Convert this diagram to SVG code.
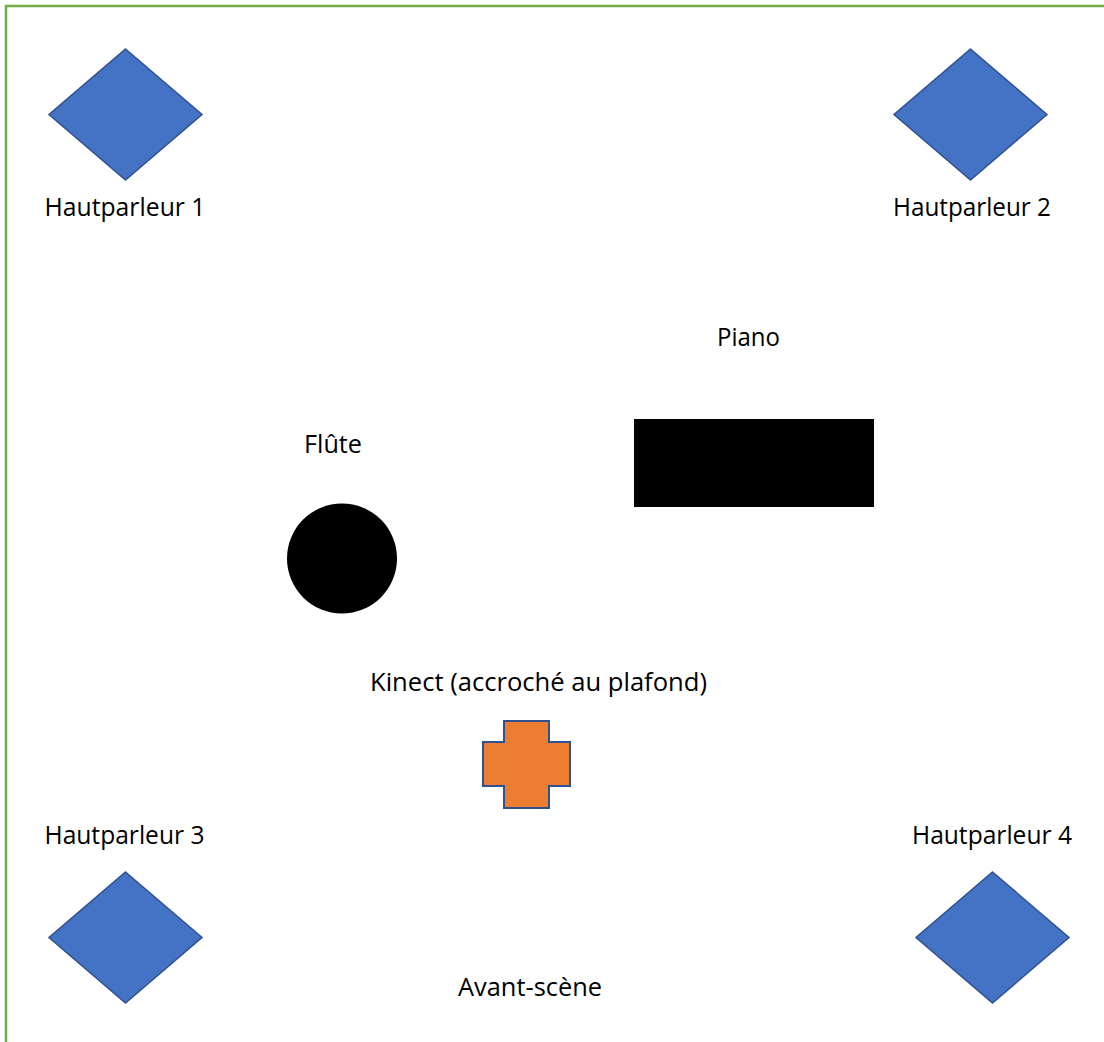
<svg xmlns="http://www.w3.org/2000/svg" width="1104" height="1042" viewBox="0 0 1104 1042">
<style>
.lbl{font-family:"Open Sans","Liberation Sans",sans-serif;font-size:25px;fill:#000;text-anchor:middle}
.spk{fill:#4472C4;stroke:#2F528F;stroke-width:1.5}
</style>
<rect width="1104" height="1042" fill="#fff"/>
<path d="M6,1042 V6 H1104" fill="none" stroke="#70AD47" stroke-width="2.5"/>
<g id="hp1">
<polygon class="spk" points="125.5,49 202,114.5 125.5,180 49,114.5"/>
<text class="lbl" x="125" y="216" textLength="161" lengthAdjust="spacingAndGlyphs">Hautparleur 1</text>
</g>
<g id="hp2">
<polygon class="spk" points="970.5,49 1047,114.5 970.5,180 894,114.5"/>
<text class="lbl" x="972" y="216" textLength="158" lengthAdjust="spacingAndGlyphs">Hautparleur 2</text>
</g>
<g id="hp3">
<polygon class="spk" points="125.5,872 202,937.5 125.5,1003 49,937.5"/>
<text class="lbl" x="124.5" y="844" textLength="160" lengthAdjust="spacingAndGlyphs">Hautparleur 3</text>
</g>
<g id="hp4">
<polygon class="spk" points="992.5,872 1069,937.5 992.5,1003 916,937.5"/>
<text class="lbl" x="992" y="844" textLength="160" lengthAdjust="spacingAndGlyphs">Hautparleur 4</text>
</g>
<g id="piano">
<rect x="634" y="419" width="240" height="88" fill="#000"/>
<text class="lbl" x="748.5" y="346" textLength="63" lengthAdjust="spacingAndGlyphs">Piano</text>
</g>
<g id="flute">
<circle cx="342" cy="558.5" r="55" fill="#000"/>
<text class="lbl" x="333" y="453" textLength="58" lengthAdjust="spacingAndGlyphs">Flûte</text>
</g>
<g id="kinect">
<polygon points="504,721 549,721 549,742 570,742 570,786 549,786 549,808 504,808 504,786 483,786 483,742 504,742" fill="#ED7D31" stroke="#2F528F" stroke-width="2"/>
<text class="lbl" x="538.5" y="691" textLength="337" lengthAdjust="spacingAndGlyphs">Kinect (accroché au plafond)</text>
</g>
<g id="avant-scene">
<text class="lbl" x="530" y="996" textLength="144" lengthAdjust="spacingAndGlyphs">Avant-scène</text>
</g>
<g id="connectors"></g>
</svg>
